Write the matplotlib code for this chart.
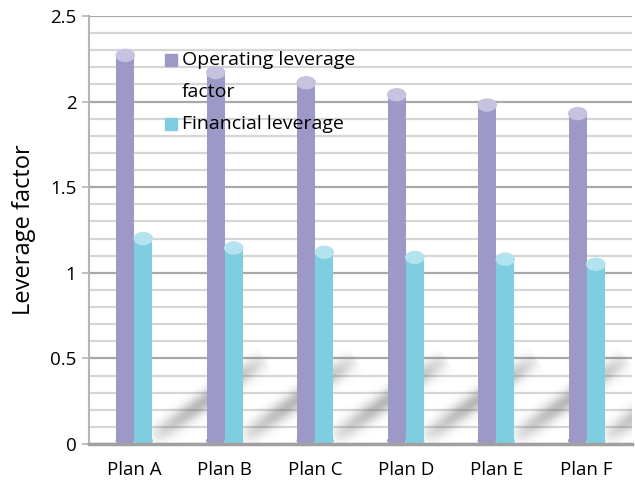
import numpy as np
import matplotlib
matplotlib.use("Agg")
import matplotlib.pyplot as plt
from matplotlib.patches import Ellipse
from matplotlib.ticker import MultipleLocator

plt.rcParams['font.family'] = ['Open Sans', 'DejaVu Sans']

plans = ["Plan A", "Plan B", "Plan C", "Plan D", "Plan E", "Plan F"]
operating = [2.27, 2.17, 2.11, 2.04, 1.98, 1.93]
financial = [1.20, 1.145, 1.12, 1.09, 1.08, 1.05]
series_names = ["Operating leverage\nfactor", "Financial leverage"]

purple = "#9d99c7"
purple_top = "#c6c3e1"
cyan = "#7ecde0"
cyan_top = "#b3e3ef"

fig = plt.figure(figsize=(6.35, 4.84), dpi=100)
ax = fig.add_axes([89 / 635, 40 / 484, 543 / 635, 428 / 484])

ymax = 2.5
ax.set_xlim(-0.5, len(plans) - 0.5)
ax.set_ylim(0, ymax)

# grid: light minor lines every 0.1, darker major every 0.5
ax.yaxis.set_major_locator(MultipleLocator(0.5))
ax.yaxis.set_minor_locator(MultipleLocator(0.1))
ax.grid(which='minor', axis='y', color='#d6d6d6', lw=1.6, zorder=0)
ax.grid(which='major', axis='y', color='#a8a8a8', lw=1.6, zorder=0)
ax.set_axisbelow(True)

# diagonal blurred shadows falling behind each pair of cylinders
nx, ny = 900, 500
gx = np.linspace(-0.5, len(plans) - 0.5, nx)
gy = np.linspace(0, ymax, ny)
X, Y = np.meshgrid(gx, gy)
# work in pixel units so the blur is round
PX = (X + 0.5) * 90.5
PY = Y * 171.2
shade = np.zeros_like(X)
for i in range(len(plans)):
    x0, y0 = (i + 0.2 + 0.5) * 90.5, 0.03 * 171.2
    x1, y1 = (i + 1.45 + 0.5) * 90.5, 0.5 * 171.2
    dx, dy = x1 - x0, y1 - y0
    L2 = dx * dx + dy * dy
    t = ((PX - x0) * dx + (PY - y0) * dy) / L2
    tc = np.clip(t, 0, 1)
    d = np.hypot(PX - (x0 + tc * dx), PY - (y0 + tc * dy))
    prof = np.exp(-(d / 9.0) ** 2) * np.sin(tc * np.pi) ** 0.5
    shade = np.maximum(shade, prof)
rgba = np.zeros((ny, nx, 4))
rgba[..., :3] = 0.38
rgba[..., 3] = shade * 0.45
ax.imshow(rgba, extent=(-0.5, len(plans) - 0.5, 0, ymax), origin='lower',
          aspect='auto', interpolation='bilinear', zorder=1)

# cylinders
w = 0.2
e = 0.07
eb = 0.04
x = np.arange(len(plans))
for vals, off, body, top in [(operating, -w / 2, purple, purple_top),
                             (financial, w / 2, cyan, cyan_top)]:
    for xi, v in zip(x, vals):
        ax.bar(xi + off, v - eb / 2, width=w, bottom=eb / 2, color=body, zorder=3)
        ax.add_patch(Ellipse((xi + off, eb / 2), w, eb, color=body, zorder=3))
        ax.add_patch(Ellipse((xi + off, v), w, e, color=top, zorder=4))

# axes styling
for s in ['top', 'right']:
    ax.spines[s].set_visible(False)
ax.spines['left'].set_color('#b5b5b5')
ax.spines['left'].set_linewidth(1.5)
ax.spines['bottom'].set_color('#a0a0a0')
ax.spines['bottom'].set_linewidth(2.5)
ax.spines['bottom'].set_zorder(5)

ax.set_xticks(x)
ax.set_xticklabels(plans, fontsize=13.5)
ax.tick_params(axis='x', length=0, pad=12)
ax.set_yticks([0, 0.5, 1, 1.5, 2, 2.5])
ax.set_yticklabels(["0", "0.5", "1", "1.5", "2", "2.5"], fontsize=13.5)
ax.tick_params(axis='y', which='major', length=5, color='#b5b5b5', width=1.2, pad=4)
ax.tick_params(axis='y', which='minor', length=0)
ax.set_ylabel("Leverage factor", fontsize=17, labelpad=10)

# legend drawn as markers and text inside the plot area
leg_x = 0.151
pitch = 32 / 428
row = 0.897
for col, name in [(purple, series_names[0]), (cyan, series_names[1])]:
    ax.plot([leg_x], [row], marker='s', ms=8.5, color=col, transform=ax.transAxes,
            zorder=6, clip_on=False)
    for line in name.split("\n"):
        ax.text(leg_x + 0.02, row, line, transform=ax.transAxes, fontsize=14,
                va='center', ha='left', zorder=6)
        row -= pitch

fig.savefig("out.png", dpi=100)
